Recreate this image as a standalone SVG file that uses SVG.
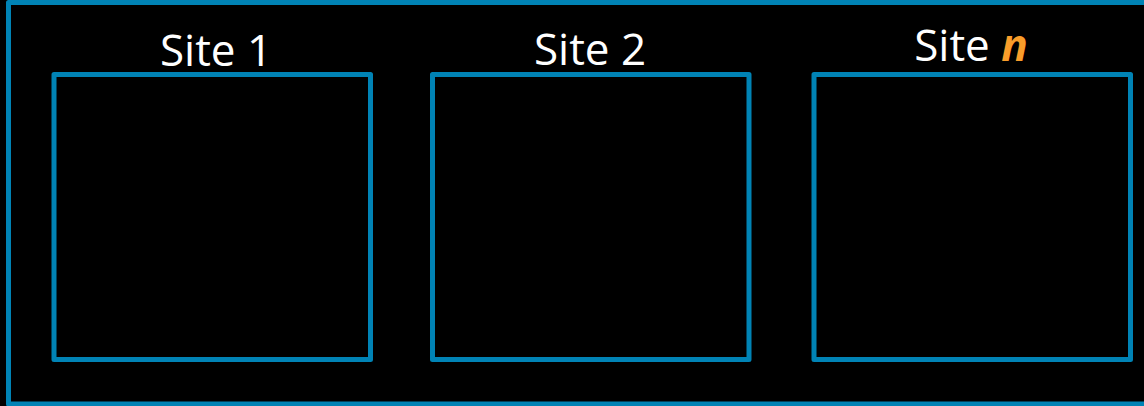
<svg xmlns="http://www.w3.org/2000/svg" width="1144" height="406" viewBox="0 0 1144 406">
<style>
.frame{fill:none;stroke:#0083b5;stroke-width:5;stroke-linejoin:round}
.lbl{font-family:"Open Sans","Noto Sans","Liberation Sans",sans-serif;font-size:44px;fill:#ffffff;text-anchor:middle}
.var{fill:#f99d2a;font-style:italic;font-weight:bold}
</style>
<rect x="0" y="0" width="1144" height="406" fill="#000000"/>
<g id="container">
<rect class="frame" x="8.5" y="2.5" width="1145" height="401.5"/>
</g>
<g id="site1">
<rect class="frame" x="54" y="74.5" width="316.5" height="285"/>
<text class="lbl" x="216" y="66">Site 1</text>
</g>
<g id="site2">
<rect class="frame" x="432.5" y="74.5" width="316.5" height="285"/>
<text class="lbl" x="590" y="65">Site 2</text>
</g>
<g id="siten">
<rect class="frame" x="814" y="74.5" width="316.5" height="285"/>
<text class="lbl" x="971" y="61">Site <tspan class="var">n</tspan></text>
</g>
<g id="connectors"></g>
</svg>
